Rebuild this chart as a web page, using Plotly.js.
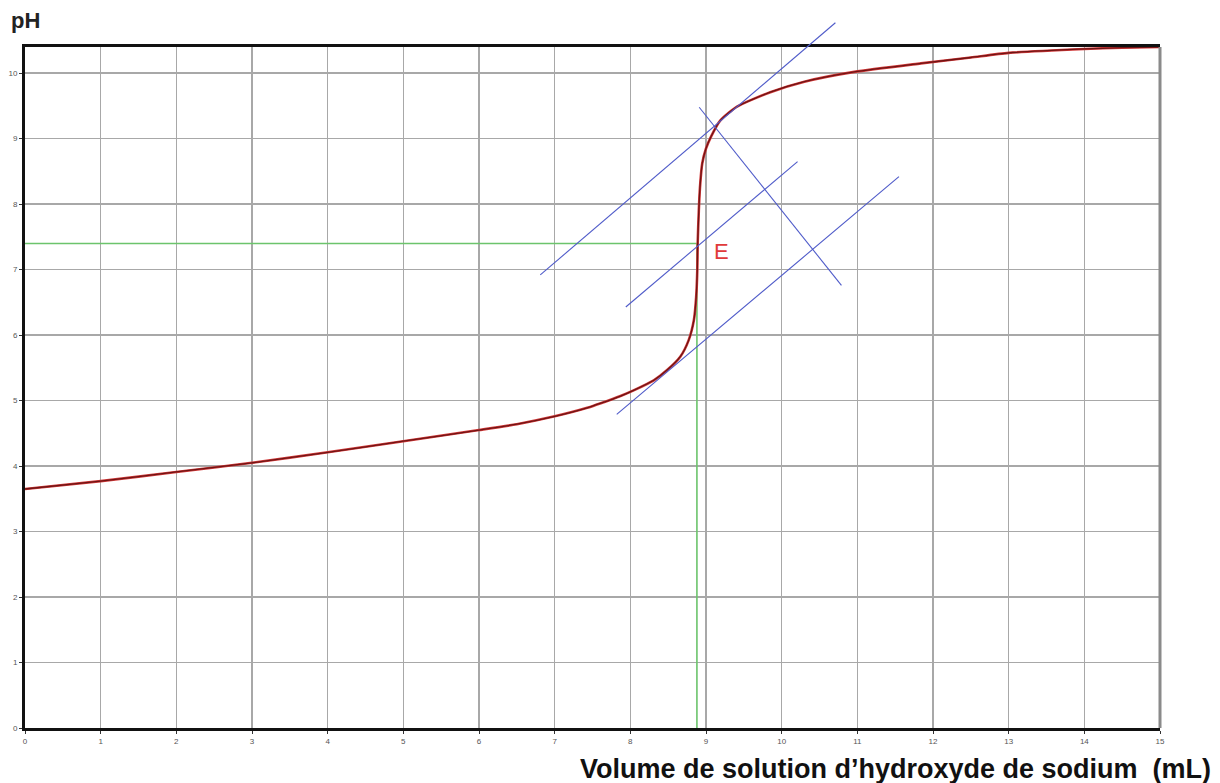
<!DOCTYPE html>
<html>
<head>
<meta charset="utf-8">
<script src="https://cdn.plot.ly/plotly-3.0.1.min.js"></script>
<style>html,body{margin:0;padding:0;background:#fff;}#chart{width:1220px;height:783px;}</style>
</head>
<body>
<div id="chart"></div>
<script>
// Titration curve
const volume = [0, 1, 2, 3, 4, 5, 6, 6.5, 7, 7.43, 7.61, 7.87, 8.05, 8.31, 8.49, 8.66, 8.77, 8.84, 8.87, 8.885, 8.89, 8.905, 8.92, 8.95, 9.0, 9.07, 9.19, 9.41, 9.85, 10.3, 10.96, 11.84, 12.5, 13, 14, 14.5, 15];
const pH = [3.65, 3.77, 3.91, 4.05, 4.21, 4.38, 4.55, 4.64, 4.76, 4.89, 4.96, 5.07, 5.16, 5.31, 5.47, 5.67, 5.92, 6.23, 6.58, 7.0, 7.40, 7.9, 8.25, 8.62, 8.85, 9.04, 9.28, 9.49, 9.71, 9.87, 10.02, 10.15, 10.24, 10.31, 10.37, 10.39, 10.40];

// Parallel tangents method lines
const tangentHighX = [6.81, 10.71];
const tangentHighY = [6.92, 10.77];
const tangentMidX = [7.94, 10.21];
const tangentMidY = [6.43, 8.65];
const tangentLowX = [7.82, 11.55];
const tangentLowY = [4.79, 8.42];
const perpendicularX = [8.91, 10.79];
const perpendicularY = [9.48, 6.76];

// Equivalence point
const eqVolume = 8.88;
const eqPH = 7.40;

const xTicks = [0,1,2,3,4,5,6,7,8,9,10,11,12,13,14,15];
const yTicks = [0,1,2,3,4,5,6,7,8,9,10];

const yMax = 10.4;
const mainTop = 0.9551;

const blue = '#4f5bc9';
const traces = [
  {x:[0, eqVolume, eqVolume], y:[eqPH, eqPH, 0], mode:'lines', line:{color:'#6cc46c', width:1.6}, xaxis:'x', yaxis:'y', hoverinfo:'skip'},
  {x:volume, y:pH, mode:'lines', line:{color:'#d23a3a', width:2.6, shape:'spline', smoothing:0.6}, xaxis:'x', yaxis:'y', hoverinfo:'skip'},
  {x:volume, y:pH, mode:'lines', line:{color:'#6e1414', width:1.3, shape:'spline', smoothing:0.6}, xaxis:'x', yaxis:'y', hoverinfo:'skip'},
  {x:tangentHighX, y:tangentHighY, mode:'lines', line:{color:blue, width:1.1}, xaxis:'x2', yaxis:'y2', hoverinfo:'skip'},
  {x:tangentMidX, y:tangentMidY, mode:'lines', line:{color:blue, width:1.1}, xaxis:'x2', yaxis:'y2', hoverinfo:'skip'},
  {x:tangentLowX, y:tangentLowY, mode:'lines', line:{color:blue, width:1.1}, xaxis:'x2', yaxis:'y2', hoverinfo:'skip'},
  {x:perpendicularX, y:perpendicularY, mode:'lines', line:{color:blue, width:1.1}, xaxis:'x2', yaxis:'y2', hoverinfo:'skip'}
];

const tickFont = {family:'Liberation Sans, Arial, sans-serif', size:8, color:'#555'};
const layout = {
  width:1220, height:783,
  margin:{l:25, r:60, t:15, b:55},
  paper_bgcolor:'#fff', plot_bgcolor:'rgba(0,0,0,0)',
  showlegend:false,
  xaxis:{domain:[0,1], range:[0,15], anchor:'y', tickvals:xTicks, ticks:'outside', ticklen:3, tickcolor:'#333',
    tickfont:tickFont, showgrid:true, gridcolor:'#a8a8a8', gridwidth:1.5, zeroline:false,
    showline:true, linecolor:'#111', linewidth:3, mirror:true, fixedrange:true},
  yaxis:{domain:[0,mainTop], range:[0,yMax], anchor:'x', tickvals:yTicks, ticks:'outside', ticklen:3, tickcolor:'#333',
    tickfont:tickFont, showgrid:true, gridcolor:'#a8a8a8', gridwidth:1.5, zeroline:false,
    showline:true, linecolor:'#111', linewidth:3, mirror:false, fixedrange:true},
  xaxis2:{domain:[0,1], range:[0,15], anchor:'y2', visible:false, fixedrange:true},
  yaxis2:{domain:[0,1], range:[0, yMax/mainTop], anchor:'x2', visible:false, fixedrange:true},
  shapes:[
    {type:'line', xref:'paper', yref:'paper', x0:1, x1:1, y0:0, y1:mainTop, line:{color:'#8a8a8a', width:3}}
  ],
  annotations:[
    {text:'pH', xref:'paper', yref:'paper', x:-0.014, y:0.992, xanchor:'left', yanchor:'middle', showarrow:false,
      font:{family:'Liberation Sans, Arial, sans-serif', size:22, color:'#222', weight:'bold'}},
    {text:'Volume de solution d’hydroxyde de sodium  (mL)', xref:'paper', yref:'paper', x:1.0467, y:-0.057, xanchor:'right', yanchor:'middle', showarrow:false,
      font:{family:'Liberation Sans, Arial, sans-serif', size:27, color:'#111', weight:'bold'}},
    {text:'E', xref:'x', yref:'y', x:9.21, y:7.27, xanchor:'center', yanchor:'middle', showarrow:false,
      font:{family:'Liberation Sans, Arial, sans-serif', size:22, color:'#e03a3a'}}
  ]
};

Plotly.newPlot('chart', traces, layout, {displayModeBar:false, staticPlot:true});
</script>
</body>
</html>
